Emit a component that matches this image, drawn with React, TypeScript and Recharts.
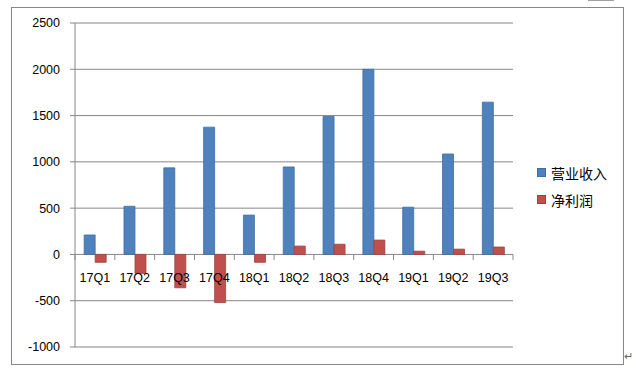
import React from "react";
import { BarChart, Bar, XAxis, YAxis, CartesianGrid } from "recharts";

const categories = ["17Q1", "17Q2", "17Q3", "17Q4", "18Q1", "18Q2", "18Q3", "18Q4", "19Q1", "19Q2", "19Q3"];
const revenue = [210, 520, 935, 1375, 425, 945, 1490, 2000, 510, 1085, 1645];
const netProfit = [-85, -205, -360, -520, -85, 90, 110, 155, 35, 57, 80];
const yTicks = [-1000, -500, 0, 500, 1000, 1500, 2000, 2500];
const seriesNames = ["营业收入", "净利润"];

const W = 636;
const H = 379;
const PLOT_LEFT = 75;
const PLOT_RIGHT = 513;
const PLOT_TOP = 23;
const PLOT_BOTTOM = 347;
const Y_MIN = -1000;
const Y_MAX = 2500;
const BLUE = "#4F81BD";
const BLUE_EDGE = "#3D6DA6";
const RED = "#C0504D";
const RED_EDGE = "#A0403D";
const GRID = "#868686";
const FONT = "'Liberation Sans', Arial, sans-serif";

const data = categories.map((c, i) => ({ name: c, revenue: revenue[i], profit: netProfit[i] }));

const zeroY = PLOT_TOP + ((Y_MAX - 0) / (Y_MAX - Y_MIN)) * (PLOT_BOTTOM - PLOT_TOP);
const band = (PLOT_RIGHT - PLOT_LEFT) / categories.length;

const CatTick = (props: any) => {
  const { x, payload, index } = props;
  return (
    <g>
      <line x1={x - band / 2} x2={x - band / 2} y1={zeroY} y2={zeroY + 5.5} stroke={GRID} />
      {index === categories.length - 1 && (
        <line x1={x + band / 2} x2={x + band / 2} y1={zeroY} y2={zeroY + 5.5} stroke={GRID} />
      )}
      <text x={x} y={zeroY + 23.5} dy="0.355em" textAnchor="middle" fontSize={12.5} fontFamily={FONT} fill="#000">
        {payload.value}
      </text>
    </g>
  );
};

export default function App() {
  return (
    <div style={{ position: "absolute", left: 0, top: 0, width: W, height: H, background: "#fff" }}>
      <div
        style={{
          position: "absolute",
          left: 11,
          top: 7,
          width: 611,
          height: 356,
          border: "1px solid #878787",
        }}
      />
      <div style={{ position: "absolute", left: 588, top: 0, width: 26, height: 1, background: "#a0a0a0" }} />
      <div style={{ position: "absolute", left: 0, top: 0 }}>
        <BarChart
          width={W}
          height={H}
          data={data}
          margin={{ top: PLOT_TOP, right: W - PLOT_RIGHT, bottom: H - PLOT_BOTTOM - 1, left: 0 }}
          barCategoryGap="23%"
          barGap={0}
        >
          <CartesianGrid vertical={false} stroke={GRID} strokeDasharray="" />
          <YAxis
            width={PLOT_LEFT}
            domain={[Y_MIN, Y_MAX]}
            ticks={yTicks}
            interval={0}
            axisLine={{ stroke: GRID }}
            tickLine={{ stroke: GRID }}
            tickSize={5}
            tickMargin={10}
            tick={{ fontSize: 12.5, fontFamily: FONT, fill: "#000" }}
          />
          <Bar dataKey="revenue" name={seriesNames[0]} fill={BLUE} stroke={BLUE_EDGE} strokeWidth={0.8} isAnimationActive={false} />
          <Bar dataKey="profit" name={seriesNames[1]} fill={RED} stroke={RED_EDGE} strokeWidth={0.8} isAnimationActive={false} />
          <XAxis dataKey="name" height={1} axisLine={false} tickLine={false} interval={0} tick={<CatTick />} />
        </BarChart>
      </div>
      <div style={{ position: "absolute", left: 537, top: 162, fontFamily: "'Noto Sans CJK SC', sans-serif", fontSize: 14, color: "#000" }}>
        {seriesNames.map((n, i) => (
          <div key={n} style={{ display: "flex", alignItems: "center", height: 21, marginBottom: 6 }}>
            <span
              style={{
                display: "inline-block",
                width: 7,
                height: 7,
                background: i === 0 ? BLUE : RED,
                border: `0.5px solid ${i === 0 ? BLUE_EDGE : RED_EDGE}`,
                marginRight: 5,
              }}
            />
            <span>{n}</span>
          </div>
        ))}
      </div>
      <div style={{ position: "absolute", left: 624, top: 350, fontSize: 11, color: "#666", fontFamily: FONT }}>↵</div>
    </div>
  );
}
